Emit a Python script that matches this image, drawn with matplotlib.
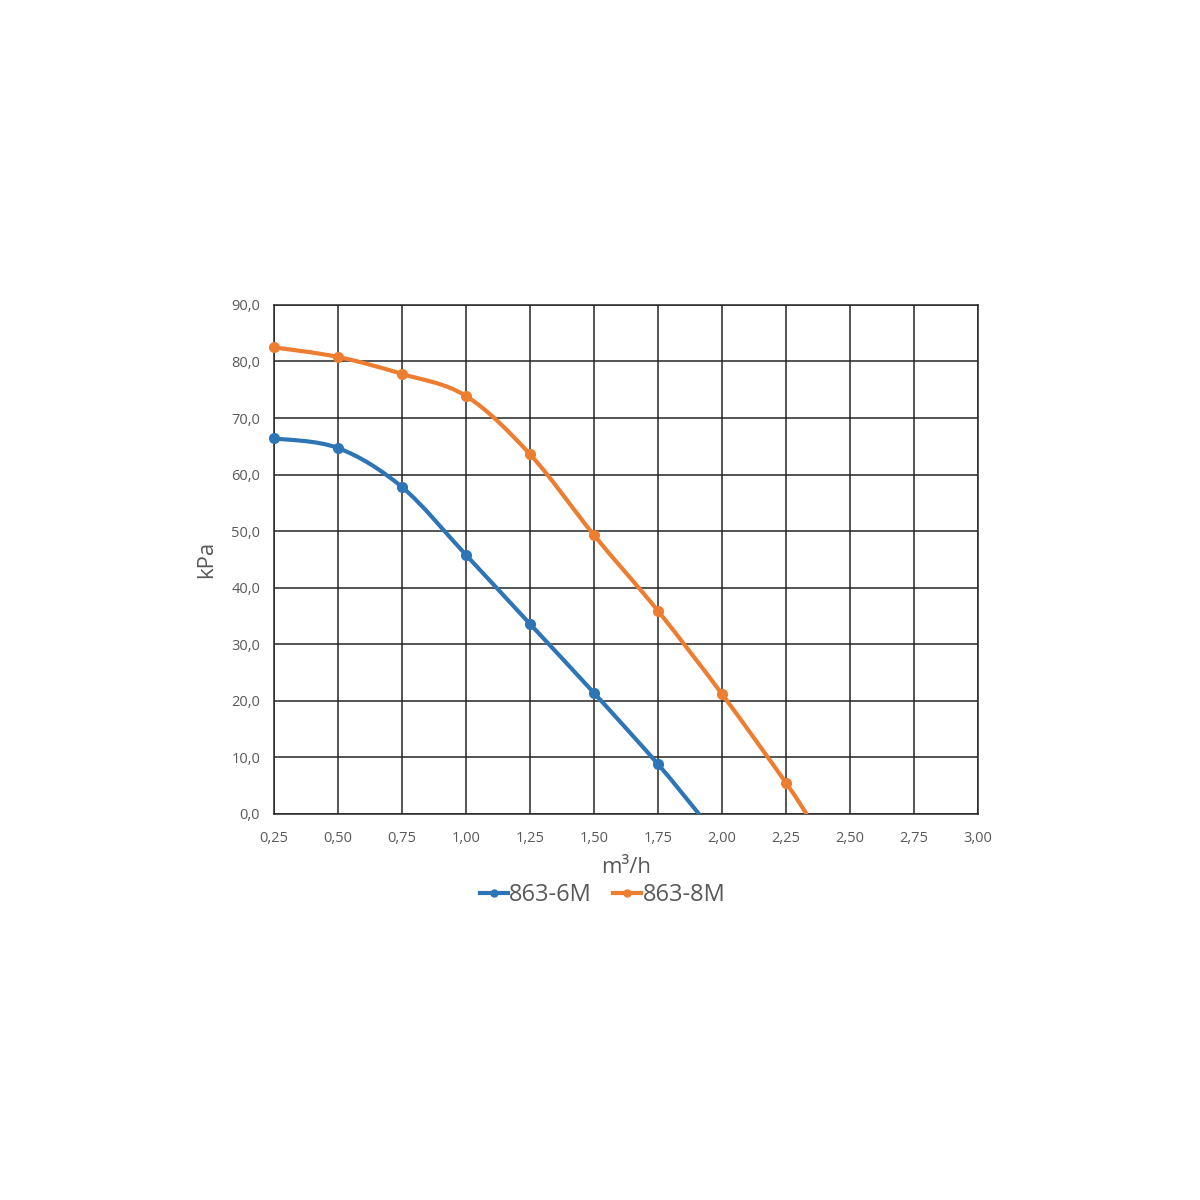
import matplotlib.pyplot as plt
from matplotlib.path import Path
from matplotlib.patches import PathPatch
from matplotlib.lines import Line2D

plt.rcParams['font.family'] = ['Open Sans', 'DejaVu Sans']

# series 863-6M (last point is where the curve meets the axis, no marker)
flow_6m = [0.25, 0.50, 0.75, 1.00, 1.25, 1.50, 1.75, 1.91]
kpa_6m = [66.4, 64.7, 57.8, 45.8, 33.6, 21.4, 8.8, 0.0]

# series 863-8M
flow_8m = [0.25, 0.50, 0.75, 1.00, 1.25, 1.50, 1.75, 2.00, 2.25, 2.33]
kpa_8m = [82.5, 80.8, 77.8, 73.9, 63.6, 49.3, 35.9, 21.2, 5.5, 0.0]

x_ticks = [0.25, 0.50, 0.75, 1.00, 1.25, 1.50, 1.75, 2.00, 2.25, 2.50, 2.75, 3.00]
y_ticks = [0, 10, 20, 30, 40, 50, 60, 70, 80, 90]

blue = "#2E75B6"
orange = "#ED7D31"
grid_col = "#262626"
text_col = "#595959"


def smooth_path(xs, ys):
    # Excel-like smoothed line: cubic bezier through each point
    pts = list(zip(xs, ys))
    n = len(pts)
    verts = [pts[0]]
    codes = [Path.MOVETO]
    for i in range(n - 1):
        p0 = pts[i - 1] if i > 0 else pts[i]
        p1 = pts[i]
        p2 = pts[i + 1]
        p3 = pts[i + 2] if i + 2 < n else pts[i + 1]
        c1 = (p1[0] + (p2[0] - p0[0]) / 6, p1[1] + (p2[1] - p0[1]) / 6)
        c2 = (p2[0] - (p3[0] - p1[0]) / 6, p2[1] - (p3[1] - p1[1]) / 6)
        verts += [c1, c2, p2]
        codes += [Path.CURVE4] * 3
    return Path(verts, codes)


fig = plt.figure(figsize=(12, 12), dpi=100)
ax = fig.add_axes([0.2283, 0.3217, 0.5867, 0.4242])

for xs, ys, col in [(flow_6m, kpa_6m, blue), (flow_8m, kpa_8m, orange)]:
    ax.add_patch(PathPatch(smooth_path(xs, ys), facecolor="none",
                           edgecolor=col, lw=3, capstyle="round", zorder=3))
    ax.plot(xs[:-1], ys[:-1], ls="none", marker="o", ms=7,
            mfc=col, mec=col, zorder=4, clip_on=False)

ax.set_xlim(0.25, 3.0)
ax.set_ylim(0, 90)
ax.set_xticks(x_ticks)
ax.set_yticks(y_ticks)
ax.set_xticklabels([f"{v:.2f}".replace(".", ",") for v in x_ticks])
ax.set_yticklabels([f"{v:.1f}".replace(".", ",") for v in y_ticks])
ax.tick_params(length=0, labelsize=10.5, colors=text_col)
ax.tick_params(axis="x", pad=12)
ax.tick_params(axis="y", pad=10)
ax.grid(True, color=grid_col, lw=1.1)
for s in ax.spines.values():
    s.set_color(grid_col)
    s.set_linewidth(1.1)

ax.set_xlabel("m³/h", fontsize=16, color=text_col, labelpad=8)
ax.set_ylabel("kPa", fontsize=16, color=text_col, labelpad=10)

handles = [Line2D([], [], color=blue, lw=3, marker="o", ms=5),
           Line2D([], [], color=orange, lw=3, marker="o", ms=5)]
fig.legend(handles, ["863-6M", "863-8M"], loc="center",
           bbox_to_anchor=(0.502, 0.254), ncol=2, frameon=False,
           fontsize=17, labelcolor=text_col, handlelength=1.2,
           handletextpad=0.05, columnspacing=0.9)

fig.savefig("out.png", dpi=100, facecolor="white")
